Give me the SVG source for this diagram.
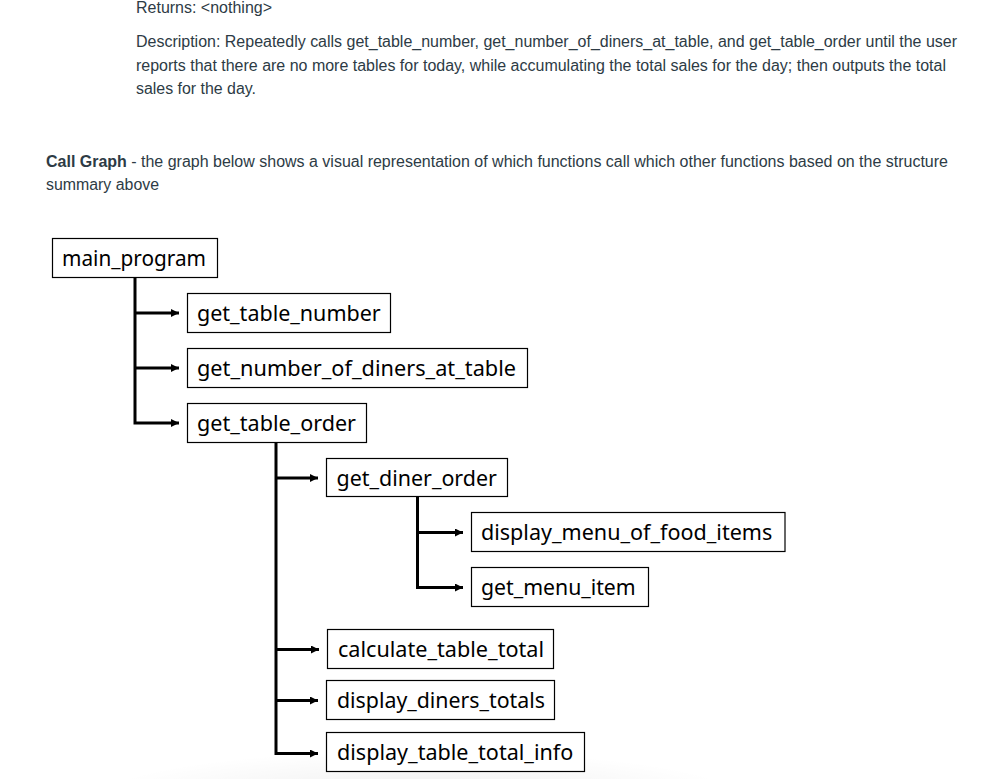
<svg xmlns="http://www.w3.org/2000/svg" width="994" height="779" viewBox="0 0 994 779">
<style>
.p{font-family:"Liberation Sans",Arial,sans-serif;font-size:16px;fill:#2d3b45}
.b{font-weight:bold}
.box{fill:#fff;stroke:#000;stroke-width:1.2}
.lbl{font-family:"Noto Sans","Open Sans",sans-serif;font-size:21px;fill:#000}
.c{fill:none;stroke:#000;stroke-width:3;stroke-linejoin:miter}
</style>
<defs>
<marker id="ah" markerUnits="userSpaceOnUse" markerWidth="10" markerHeight="10" refX="8" refY="4" orient="auto">
<path d="M0,0 L8,4 L0,8 z" fill="#000"/>
</marker>
<radialGradient id="sh" cx="0.5" cy="0.5" r="0.5">
<stop offset="0" stop-color="#000" stop-opacity="0.07"/>
<stop offset="1" stop-color="#000" stop-opacity="0"/>
</radialGradient>
</defs>
<rect width="994" height="779" fill="#fff"/>
<ellipse cx="420" cy="800" rx="330" ry="50" fill="url(#sh)"/>

<g id="text">
<text class="p" x="136" y="12.5" textLength="136" lengthAdjust="spacingAndGlyphs">Returns: &lt;nothing&gt;</text>
<text class="p" x="136" y="47" textLength="821" lengthAdjust="spacingAndGlyphs">Description: Repeatedly calls get_table_number, get_number_of_diners_at_table, and get_table_order until the user</text>
<text class="p" x="136" y="71" textLength="810" lengthAdjust="spacingAndGlyphs">reports that there are no more tables for today, while accumulating the total sales for the day; then outputs the total</text>
<text class="p" x="136" y="94" textLength="120" lengthAdjust="spacingAndGlyphs">sales for the day.</text>
<text class="p" x="46" y="167" textLength="902" lengthAdjust="spacingAndGlyphs"><tspan class="b">Call Graph</tspan> - the graph below shows a visual representation of which functions call which other functions based on the structure</text>
<text class="p" x="46" y="190" textLength="113" lengthAdjust="spacingAndGlyphs">summary above</text>
</g>

<g id="connectors">
<path class="c" d="M135,277.5 V423 H179" marker-end="url(#ah)"/>
<path class="c" d="M135,313 H179" marker-end="url(#ah)"/>
<path class="c" d="M135,368 H179" marker-end="url(#ah)"/>
<path class="c" d="M276,442.5 V753.5 H318" marker-end="url(#ah)"/>
<path class="c" d="M276,478 H318" marker-end="url(#ah)"/>
<path class="c" d="M276,649.5 H319" marker-end="url(#ah)"/>
<path class="c" d="M276,700.5 H318" marker-end="url(#ah)"/>
<path class="c" d="M417.5,496.5 V587.5 H463" marker-end="url(#ah)"/>
<path class="c" d="M417.5,532.5 H463" marker-end="url(#ah)"/>
</g>

<g id="n_main_program"><rect class="box" x="52.5" y="238.5" width="165" height="39"/><text class="lbl" x="62" y="266" textLength="144" lengthAdjust="spacingAndGlyphs">main_program</text></g>
<g id="n_get_table_number"><rect class="box" x="187.5" y="293.5" width="203" height="39"/><text class="lbl" x="197" y="321" textLength="183.7" lengthAdjust="spacingAndGlyphs">get_table_number</text></g>
<g id="n_get_number_of_diners_at_table"><rect class="box" x="187.5" y="348.5" width="340" height="39"/><text class="lbl" x="197" y="376" textLength="319" lengthAdjust="spacingAndGlyphs">get_number_of_diners_at_table</text></g>
<g id="n_get_table_order"><rect class="box" x="187.5" y="403.5" width="179" height="39"/><text class="lbl" x="197" y="431" textLength="159" lengthAdjust="spacingAndGlyphs">get_table_order</text></g>
<g id="n_get_diner_order"><rect class="box" x="326.5" y="458.5" width="181" height="38"/><text class="lbl" x="336.5" y="486" textLength="160.4" lengthAdjust="spacingAndGlyphs">get_diner_order</text></g>
<g id="n_display_menu_of_food_items"><rect class="box" x="471.5" y="512.5" width="313.5" height="39"/><text class="lbl" x="481" y="540" textLength="291.3" lengthAdjust="spacingAndGlyphs">display_menu_of_food_items</text></g>
<g id="n_get_menu_item"><rect class="box" x="471.5" y="567.5" width="177" height="39"/><text class="lbl" x="481" y="595" textLength="154.7" lengthAdjust="spacingAndGlyphs">get_menu_item</text></g>
<g id="n_calculate_table_total"><rect class="box" x="327.5" y="629.5" width="226" height="39"/><text class="lbl" x="338" y="657" textLength="206" lengthAdjust="spacingAndGlyphs">calculate_table_total</text></g>
<g id="n_display_diners_totals"><rect class="box" x="326.5" y="680.5" width="228" height="39"/><text class="lbl" x="337" y="708" textLength="208" lengthAdjust="spacingAndGlyphs">display_diners_totals</text></g>
<g id="n_display_table_total_info"><rect class="box" x="326.5" y="732.5" width="258" height="39"/><text class="lbl" x="337" y="760" textLength="236.3" lengthAdjust="spacingAndGlyphs">display_table_total_info</text></g>
</svg>
